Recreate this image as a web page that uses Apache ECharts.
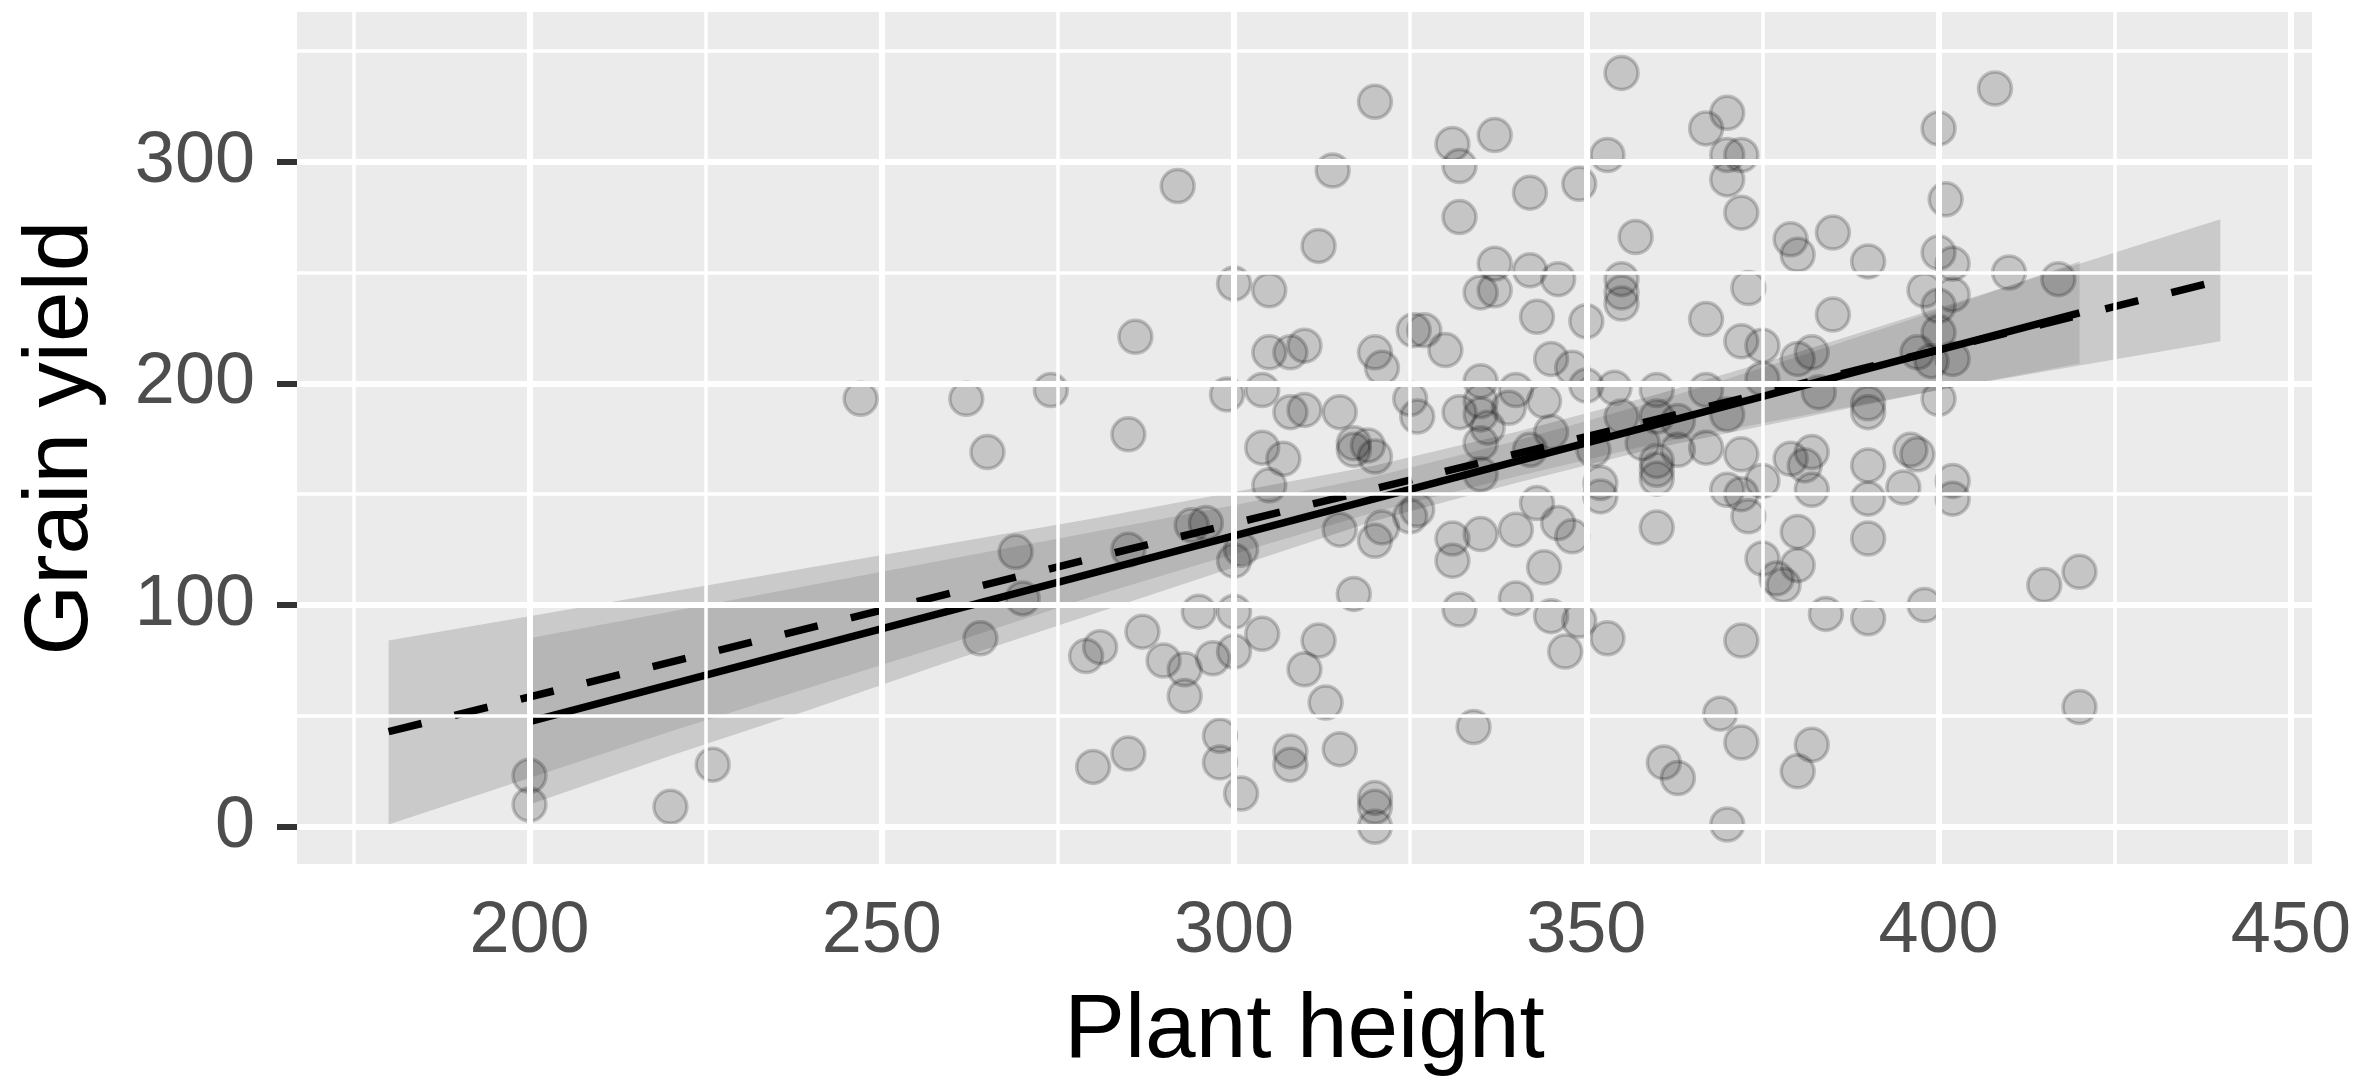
<!DOCTYPE html>
<html>
<head>
<meta charset="utf-8">
<script src="https://cdn.jsdelivr.net/npm/echarts@6.0.0/dist/echarts.min.js"></script>
<style>
  html, body { margin: 0; padding: 0; background: #fff; }
  #myCharts { width: 2355px; height: 1087px; }
</style>
</head>
<body>
<div id="myCharts"></div>
<script>
// axis ticks and grid lines
const xTicks = [200, 250, 300, 350, 400, 450];
const xMinor = [175, 225, 275, 325, 375, 425];
const yTicks = [0, 100, 200, 300];
const yMinor = [50, 150, 250, 350];

// observations
const plantHeight = [
  200, 200, 220, 226, 247, 262, 274, 265, 269, 270, 264,
  286, 285, 292, 285, 294, 296, 300, 301, 279, 281, 287, 290, 293, 293, 295, 300, 304, 297, 300,
  280, 285, 298, 298, 301, 308, 308, 315, 320, 320, 320, 334, 312, 310, 313, 317,
  320, 314, 312, 300, 305, 299, 304, 305, 308, 310, 308, 310, 315, 304, 307, 305, 317, 320,
  320, 321, 325, 326, 325.5, 327, 330, 315, 320, 321, 325, 326, 331, 331, 335, 340, 343, 346,
  348, 344, 332, 340, 345, 349, 347,
  331, 332, 337, 332, 342, 349, 355, 353, 337, 342, 346, 335, 337, 343, 350, 345, 348, 350,
  335, 340, 344, 332, 335, 335, 336, 335, 339, 345, 342, 335,
  355, 355, 355, 370, 367, 370, 372, 370, 372, 357, 373, 367, 372, 375, 375, 354, 360, 367,
  355, 351, 358, 363, 363, 367, 370, 372, 360, 360, 360, 352, 352, 375, 370, 372, 373, 360,
  353, 372, 369, 372, 361, 363, 370, 375,
  379, 380, 385, 390, 400, 402, 410, 417, 400, 408, 401, 385, 398, 402, 400, 380, 382, 400,
  397, 399, 402, 383, 390, 390, 400, 379, 381, 382, 382, 390, 390, 395, 396, 397, 402, 402,
  390, 380, 380, 377, 378, 384, 390, 398, 415, 420, 420, 382, 380, 317, 319, 360
];
const grainYield = [
  23, 10, 9, 28, 193, 193, 197, 169, 124, 103, 85,
  221, 177, 289, 125, 136, 137, 120, 125, 77, 81, 88, 75, 71, 59, 97, 97, 87, 76, 79,
  27, 33, 41, 29, 15, 34, 28, 35, 13, 9, 0, 45, 84, 71, 56, 105,
  327, 296, 262, 245, 242, 195, 197, 214, 214, 217, 187, 188, 187, 171, 166, 154, 170, 167,
  214, 207, 193, 185, 224, 224, 215, 134, 129, 135, 140, 143, 130, 120, 132, 134, 146, 137,
  131, 117, 98, 103, 95, 93, 79,
  308, 298, 312, 275, 286, 290, 340, 303, 254, 251, 247, 241, 242, 230, 228, 211, 207, 199,
  201, 197, 192, 187, 192, 186, 180, 173, 189, 178, 170, 159,
  247, 241, 236, 322, 315, 303, 303, 292, 277, 266, 243, 229, 219, 217, 202, 198, 197, 197,
  185, 170, 173, 183, 170, 171, 186, 168, 165, 161, 157, 155, 149, 156, 152, 150, 140, 135,
  85, 84, 51, 38, 29, 22, 1, 121,
  265, 258, 268, 255, 259, 254, 250, 247, 315, 333, 283, 231, 242, 240, 235, 211, 214, 223,
  214, 210, 211, 196, 191, 187, 193, 166, 163, 169, 152, 163, 148, 153, 170, 168, 156, 148,
  130, 133, 118, 112, 109, 96, 94, 100, 109, 115, 54, 37, 25, 173, 172, 185
];

// fitted lines (end points)
const solidFitX = [200, 420];
const solidFitY = [47.4, 231.8];
const dashFitX = [180, 440];
const dashFitY = [42.9, 246.4];

// confidence ribbons
const solidBandX = [200, 220, 240, 260, 280, 300, 320, 340, 360, 380, 400, 420];
const solidBandLo = [10, 32, 53, 75, 96, 117, 138, 155, 171, 184, 197, 209];
const solidBandHi = [85, 97, 109, 121, 133, 145, 158, 174, 192, 212, 233, 255];
const dashBandX = [180, 200, 220, 240, 260, 280, 300, 320, 340, 360, 380, 400, 420, 440];
const dashBandLo = [1, 22, 43, 63, 83, 104, 123, 142, 158, 173, 185, 197, 208, 219];
const dashBandHi = [84, 95, 106, 117, 128, 139, 151, 163, 178, 195, 214, 234, 254, 274];

const fontFamily = "'Liberation Sans', Arial, sans-serif";

function ribbon(xs, lo, hi) {
  return function (params, api) {
    const pts = [];
    for (let i = 0; i < xs.length; i++) pts.push(api.coord([xs[i], hi[i]]));
    for (let i = xs.length - 1; i >= 0; i--) pts.push(api.coord([xs[i], lo[i]]));
    return {
      type: "polygon",
      shape: { points: pts },
      style: { fill: "rgba(153,153,153,0.4)" }
    };
  };
}

const gridLines = [];
xTicks.forEach(v => gridLines.push({ xAxis: v, lineStyle: { width: 6 } }));
xMinor.forEach(v => gridLines.push({ xAxis: v, lineStyle: { width: 3.5 } }));
yTicks.forEach(v => gridLines.push({ yAxis: v, lineStyle: { width: 6 } }));
yMinor.forEach(v => gridLines.push({ yAxis: v, lineStyle: { width: 3.5 } }));

const myCharts = echarts.init(document.getElementById("myCharts"));
let options = {
  animation: false,
  grid: {
    left: 297,
    right: 43,
    top: 12,
    bottom: 223,
    show: true,
    backgroundColor: "#ebebeb",
    borderWidth: 0
  },
  xAxis: {
    type: "value",
    min: 167,
    max: 453,
    splitLine: { show: false },
    axisLine: { show: false },
    axisTick: {
      show: true,
      customValues: xTicks,
      length: 20,
      lineStyle: { color: "#333333", width: 6 }
    },
    axisLabel: {
      customValues: xTicks,
      margin: 32,
      fontSize: 72,
      color: "#4d4d4d",
      fontFamily: fontFamily
    },
    name: "Plant height",
    nameLocation: "middle",
    nameGap: 122,
    nameTextStyle: { fontSize: 91, color: "#000", fontFamily: fontFamily }
  },
  yAxis: {
    type: "value",
    min: -16.8,
    max: 367.5,
    splitLine: { show: false },
    axisLine: { show: false },
    axisTick: {
      show: true,
      customValues: yTicks,
      length: 20,
      lineStyle: { color: "#333333", width: 6 }
    },
    axisLabel: {
      customValues: yTicks,
      margin: 42,
      fontSize: 72,
      color: "#4d4d4d",
      fontFamily: fontFamily
    },
    name: "Grain yield",
    nameLocation: "middle",
    nameGap: 190,
    nameTextStyle: { fontSize: 91, color: "#000", fontFamily: fontFamily }
  },
  series: [
    {
      // panel grid lines
      type: "line",
      data: [],
      z: 1,
      silent: true,
      markLine: {
        silent: true,
        symbol: ["none", "none"],
        label: { show: false },
        lineStyle: { color: "#ffffff", type: "solid" },
        data: gridLines
      }
    },
    {
      type: "custom",
      z: 2,
      silent: true,
      data: [[dashBandX[0], dashBandLo[0]]],
      renderItem: ribbon(dashBandX, dashBandLo, dashBandHi)
    },
    {
      type: "custom",
      z: 2,
      silent: true,
      data: [[solidBandX[0], solidBandLo[0]]],
      renderItem: ribbon(solidBandX, solidBandLo, solidBandHi)
    },
    {
      type: "scatter",
      z: 3,
      silent: true,
      symbol: "circle",
      symbolSize: 33,
      data: plantHeight.map((x, i) => [x, grainYield[i]]),
      itemStyle: {
        color: "rgba(0,0,0,0.2)",
        borderColor: "rgba(0,0,0,0.25)",
        borderWidth: 3.5
      }
    },
    {
      type: "line",
      z: 4,
      silent: true,
      showSymbol: false,
      data: solidFitX.map((x, i) => [x, solidFitY[i]]),
      lineStyle: { color: "#000", width: 7.5 }
    },
    {
      type: "line",
      z: 4,
      silent: true,
      showSymbol: false,
      data: dashFitX.map((x, i) => [x, dashFitY[i]]),
      lineStyle: { color: "#000", width: 7.5, type: [34, 34] }
    }
  ]
};
myCharts.setOption(options);
</script>
</body>
</html>
